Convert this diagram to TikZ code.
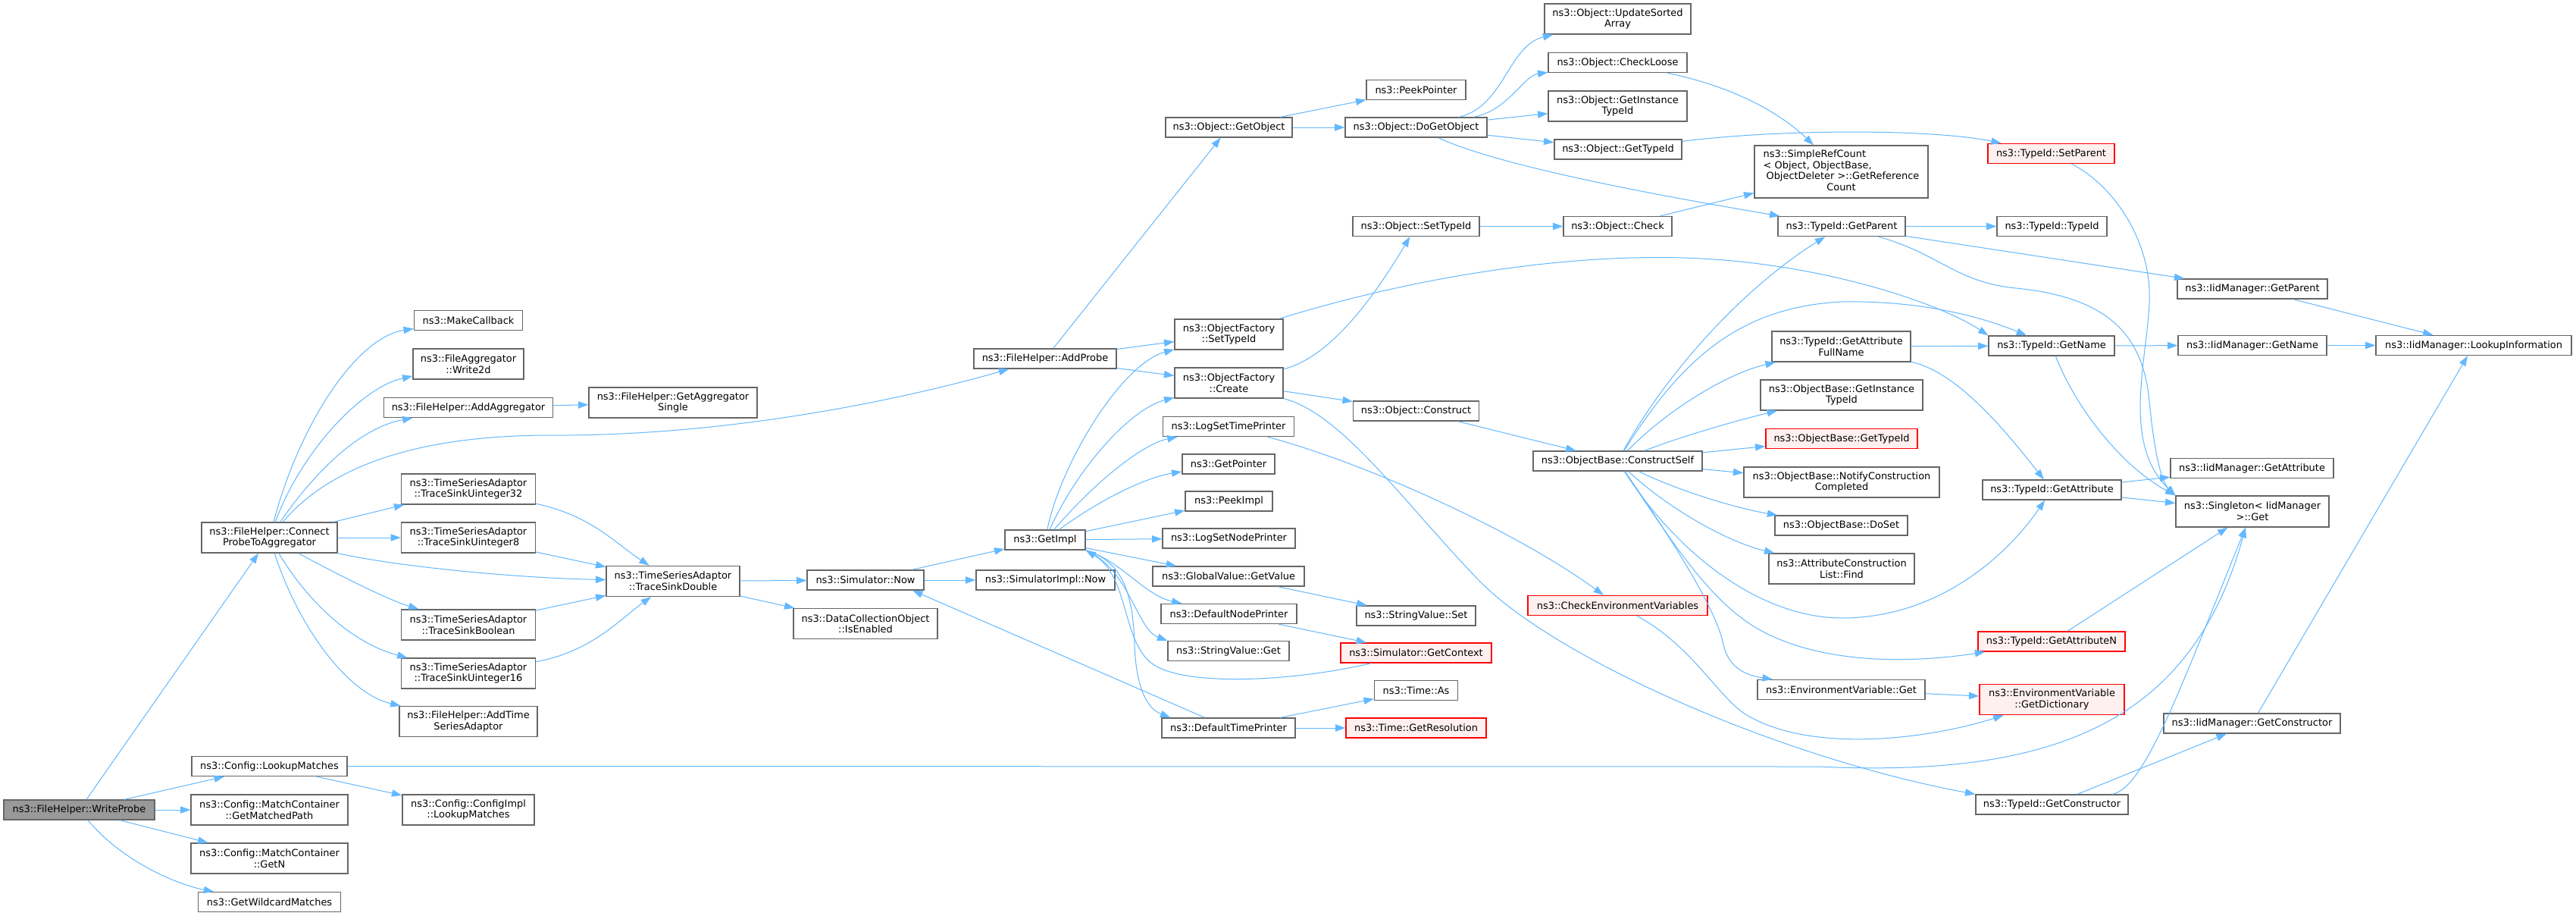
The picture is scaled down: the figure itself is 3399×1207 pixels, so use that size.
\documentclass[tikz,border=0pt]{standalone}
\usepackage{fontspec}
\setmainfont{DejaVu Sans}
\usetikzlibrary{arrows.meta,calc}
\definecolor{ecol}{HTML}{63B8FF}
\definecolor{bcol}{HTML}{666666}
\definecolor{rootfill}{HTML}{999999}
\definecolor{redfill}{HTML}{FFF0F0}
\newcommand\ndfont{\fontsize{9.7}{11}\selectfont}
\tikzset{
 box/.style={draw=bcol, fill=white, line width=1pt, inner sep=1pt, align=center, font=\ndfont, text=black},
 rednode/.style={draw=red, fill=redfill},
 rootnode/.style={fill=rootfill},
 conn/.style={draw=ecol, line width=0.75pt, -{Triangle[length=10pt,width=7pt]}},
}
\newcommand\mknode[7]{\node[box,#6,minimum width={#4*0.75pt},minimum height={#5*0.75pt}] (#1) at (#2,#3) {#7};}
\begin{document}
\begin{tikzpicture}[x=0.75pt,y=-0.75pt]
\fill[white] (0,0) rectangle (3399,1207);
\useasboundingbox (0,0) rectangle (3399,1207);
% nodes
\mknode{wp}{104.5}{1068}{199}{26}{rootnode}{ns3::FileHelper::WriteProbe}
\mknode{cp}{355.5}{709}{179}{40}{}{ns3::FileHelper::Connect\\ProbeToAggregator}
\mknode{lm}{355.5}{1010.5}{205}{26}{}{ns3::Config::LookupMatches}
\mknode{gmp}{355.5}{1068}{207}{40}{}{ns3::Config::MatchContainer\\::GetMatchedPath}
\mknode{gnn}{355.5}{1132}{207}{40}{}{ns3::Config::MatchContainer\\::GetN}
\mknode{gwm}{355.5}{1189.5}{188}{26}{}{ns3::GetWildcardMatches}
\mknode{cil}{618}{1068}{174}{40}{}{ns3::Config::ConfigImpl\\::LookupMatches}
\mknode{mc}{618}{422.5}{143}{26}{}{ns3::MakeCallback}
\mknode{w2d}{618}{480}{146}{40}{}{ns3::FileAggregator\\::Write2d}
\mknode{aag}{618}{537.5}{223}{26}{}{ns3::FileHelper::AddAggregator}
\mknode{gas}{888}{531}{222}{40}{}{ns3::FileHelper::GetAggregator\\Single}
\mknode{t32}{618}{645}{177}{40}{}{ns3::TimeSeriesAdaptor\\::TraceSinkUinteger32}
\mknode{t8}{618}{709}{177}{40}{}{ns3::TimeSeriesAdaptor\\::TraceSinkUinteger8}
\mknode{tsd}{888}{766.5}{176}{40}{}{ns3::TimeSeriesAdaptor\\::TraceSinkDouble}
\mknode{tbo}{618}{824}{177}{40}{}{ns3::TimeSeriesAdaptor\\::TraceSinkBoolean}
\mknode{t16}{618}{888}{177}{40}{}{ns3::TimeSeriesAdaptor\\::TraceSinkUinteger16}
\mknode{ats}{618}{951.5}{182}{40}{}{ns3::FileHelper::AddTime\\SeriesAdaptor}
\mknode{sn}{1142}{765}{154}{26}{}{ns3::Simulator::Now}
\mknode{dco}{1142}{822.5}{190}{40}{}{ns3::DataCollectionObject\\::IsEnabled}
\mknode{ap}{1379}{473}{188}{26}{}{ns3::FileHelper::AddProbe}
\mknode{gi}{1379}{712}{106}{26}{}{ns3::GetImpl}
\mknode{sin}{1379.5}{765}{183}{26}{}{ns3::SimulatorImpl::Now}
\mknode{go}{1621.5}{168}{167}{26}{}{ns3::Object::GetObject}
\mknode{ofs}{1621.5}{441}{143}{40}{}{ns3::ObjectFactory\\::SetTypeId}
\mknode{ofc}{1621.5}{505}{143}{40}{}{ns3::ObjectFactory\\::Create}
\mknode{lst}{1621}{562.5}{173}{26}{}{ns3::LogSetTimePrinter}
\mknode{gpt}{1621}{612}{122}{26}{}{ns3::GetPointer}
\mknode{pim}{1621.5}{661}{115}{26}{}{ns3::PeekImpl}
\mknode{lsn}{1621.5}{710}{175}{26}{}{ns3::LogSetNodePrinter}
\mknode{gvg}{1621}{760}{200}{26}{}{ns3::GlobalValue::GetValue}
\mknode{dnp}{1621.5}{809.5}{179}{26}{}{ns3::DefaultNodePrinter}
\mknode{svg}{1621}{858.5}{160}{26}{}{ns3::StringValue::Get}
\mknode{dtp}{1621}{960}{176}{26}{}{ns3::DefaultTimePrinter}
\mknode{pp}{1868.5}{118.5}{131}{26}{}{ns3::PeekPointer}
\mknode{dgo}{1868.5}{168}{187}{26}{}{ns3::Object::DoGetObject}
\mknode{ost}{1868.5}{298.5}{167}{26}{}{ns3::Object::SetTypeId}
\mknode{oc}{1868.5}{542}{166}{26}{}{ns3::Object::Construct}
\mknode{svs}{1868.5}{812}{157}{26}{}{ns3::StringValue::Set}
\mknode{sgc}{1868.5}{861}{199}{26}{rednode}{ns3::Simulator::GetContext}
\mknode{tas}{1868.5}{910.5}{110}{26}{}{ns3::Time::As}
\mknode{tgr}{1868.5}{960}{185}{26}{rednode}{ns3::Time::GetResolution}
\mknode{usa}{2134.5}{25}{193}{40}{}{ns3::Object::UpdateSorted\\Array}
\mknode{ocl}{2134.5}{82.5}{183}{26}{}{ns3::Object::CheckLoose}
\mknode{ogi}{2134.5}{140}{183}{40}{}{ns3::Object::GetInstance\\TypeId}
\mknode{ogt}{2135}{197}{168}{26}{}{ns3::Object::GetTypeId}
\mknode{och}{2134.5}{298.5}{143}{26}{}{ns3::Object::Check}
\mknode{ocs}{2134.5}{608}{223}{26}{}{ns3::ObjectBase::ConstructSelf}
\mknode{cev}{2134.5}{798.5}{237}{26}{rednode}{ns3::CheckEnvironmentVariables}
\mknode{src}{2429.5}{226.5}{229}{69}{}{\begin{tabular}{@{}l@{}}ns3::SimpleRefCount\\< Object, ObjectBase,\\\hspace{0.3em}ObjectDeleter >::GetReference\\\multicolumn{1}{@{}c@{}}{Count}\end{tabular}}
\mknode{tgp}{2430}{298.5}{168}{26}{}{ns3::TypeId::GetParent}
\mknode{afn}{2429.5}{457}{183}{40}{}{ns3::TypeId::GetAttribute\\FullName}
\mknode{bgi}{2430}{521}{214}{40}{}{ns3::ObjectBase::GetInstance\\TypeId}
\mknode{bgt}{2430}{578.5}{200}{26}{rednode}{ns3::ObjectBase::GetTypeId}
\mknode{ncc}{2430}{636}{258}{40}{}{ns3::ObjectBase::NotifyConstruction\\Completed}
\mknode{bds}{2429.5}{693}{175}{26}{}{ns3::ObjectBase::DoSet}
\mknode{acf}{2430}{750}{192}{40}{}{ns3::AttributeConstruction\\List::Find}
\mknode{evg}{2429.5}{909.5}{221}{26}{}{ns3::EnvironmentVariable::Get}
\mknode{tsp}{2706.5}{202.5}{167}{26}{rednode}{ns3::TypeId::SetParent}
\mknode{tti}{2707.5}{298.5}{145}{26}{}{ns3::TypeId::TypeId}
\mknode{tgn}{2707}{456}{166}{26}{}{ns3::TypeId::GetName}
\mknode{tga}{2707.5}{646}{183}{26}{}{ns3::TypeId::GetAttribute}
\mknode{gan}{2707}{846}{194}{26}{rednode}{ns3::TypeId::GetAttributeN}
\mknode{egd}{2707.5}{922.5}{191}{40}{rednode}{ns3::EnvironmentVariable\\::GetDictionary}
\mknode{tgc}{2707.5}{1061}{201}{26}{}{ns3::TypeId::GetConstructor}
\mknode{igp}{2972}{381}{198}{26}{}{ns3::IidManager::GetParent}
\mknode{ign}{2972}{455.5}{196}{26}{}{ns3::IidManager::GetName}
\mknode{iga}{2971.5}{617.5}{215}{26}{}{ns3::IidManager::GetAttribute}
\mknode{sg}{2972}{674.5}{202}{41}{}{ns3::Singleton< IidManager\\ >::Get}
\mknode{igc}{2971.5}{954}{233}{26}{}{ns3::IidManager::GetConstructor}
\mknode{ili}{3264}{455.5}{258}{26}{}{ns3::IidManager::LookupInformation}
% edges: WriteProbe
\draw[conn] (wp) -- (cp);
\draw[conn] (wp) -- (lm);
\draw[conn] (wp) -- (gmp);
\draw[conn] (wp) -- (gnn);
\draw[conn] (wp) .. controls (165,1140) and (240,1168) .. (gwm);
\draw[conn] (lm) -- (cil);
\draw[conn] (lm.east) -- (2400,1011) .. controls (2700,1025) and (2890,960) .. ($(sg.south)+(-9,0)$);
% ConnectProbeToAggregator
\draw[conn] (cp) .. controls (395,560) and (470,445) .. (mc);
\draw[conn] (cp) .. controls (400,590) and (480,510) .. (w2d);
\draw[conn] (cp) .. controls (410,630) and (470,565) .. (aag);
\draw[conn] (cp) .. controls (440,610) and (560,575) .. (720,574) .. controls (950,576) and (1180,530) .. (ap);
\draw[conn] (cp) -- (t32);
\draw[conn] (cp) -- (t8);
\draw[conn] (cp.south east) .. controls (530,748) and (680,762) .. (tsd);
\draw[conn] (cp) .. controls (450,760) and (510,790) .. (tbo);
\draw[conn] (cp) .. controls (410,800) and (470,850) .. (t16);
\draw[conn] (cp) .. controls (395,830) and (460,915) .. (ats);
\draw[conn] (aag) -- (gas);
\draw[conn] (t32) .. controls (780,680) and (810,715) .. (tsd);
\draw[conn] (t8) -- (tsd);
\draw[conn] (tbo) -- (tsd);
\draw[conn] (t16) .. controls (780,860) and (820,815) .. (tsd);
\draw[conn] (tsd) -- (sn);
\draw[conn] (tsd) -- (dco);
% AddProbe
\draw[conn] (ap) -- (go);
\draw[conn] (ap) -- (ofs);
\draw[conn] (ap) -- (ofc);
\draw[conn] (go) -- (pp);
\draw[conn] (go) -- (dgo);
% DoGetObject
\draw[conn] (dgo) .. controls (1985,140) and (1990,60) .. (usa);
\draw[conn] (dgo) .. controls (1990,146) and (2010,100) .. (ocl);
\draw[conn] (dgo) -- (ogi);
\draw[conn] (dgo) -- (ogt);
\draw[conn] (dgo) .. controls (1980,220) and (2200,260) .. (tgp);
\draw[conn] (ogt) .. controls (2350,170) and (2550,170) .. (tsp);
\draw[conn] (ocl) .. controls (2290,115) and (2350,150) .. (src);
\draw[conn] (och) -- (src);
\draw[conn] (ost) -- (och);
% ObjectFactory
\draw[conn] (ofs) .. controls (1850,370) and (2050,335) .. (2220,340) .. controls (2400,345) and (2560,400) .. (tgn.north west);
\draw[conn] (ofc) .. controls (1760,470) and (1820,380) .. (ost);
\draw[conn] (ofc) -- (oc);
\draw[conn] (ofc.south east) .. controls (1770,545) and (1850,660) .. (1950,764) .. controls (2050,868) and (2350,1000) .. (tgc.north west);
\draw[conn] (oc) -- (ocs);
% ConstructSelf
\draw[conn] (ocs) .. controls (2200,490) and (2300,380) .. (tgp);
\draw[conn] (ocs) .. controls (2215,480) and (2290,405) .. (2430,398) .. controls (2540,396) and (2620,420) .. (tgn);
\draw[conn] (ocs) .. controls (2190,550) and (2270,495) .. (afn);
\draw[conn] (ocs) .. controls (2220,575) and (2290,555) .. (bgi);
\draw[conn] (ocs) -- (bgt);
\draw[conn] (ocs) -- (ncc);
\draw[conn] (ocs) .. controls (2220,650) and (2300,672) .. (bds);
\draw[conn] (ocs) .. controls (2200,670) and (2280,715) .. (acf);
\draw[conn] (ocs) .. controls (2220,740) and (2330,815) .. (2430,815) .. controls (2560,815) and (2650,730) .. (tga);
\draw[conn] (ocs) .. controls (2210,720) and (2260,800) .. (2330,835) .. controls (2420,880) and (2540,872) .. (gan);
\draw[conn] (ocs) .. controls (2240,760) and (2268,820) .. (2274,850) .. controls (2280,878) and (2300,890) .. (evg);
% env
\draw[conn] (lst) .. controls (1800,610) and (2000,700) .. (cev);
\draw[conn] (cev) .. controls (2230,850) and (2265,915) .. (2300,940) .. controls (2385,995) and (2545,975) .. (egd);
\draw[conn] (evg) -- (egd);
% TypeId
\draw[conn] (tgp) -- (tti);
\draw[conn] (tgp) -- (igp);
\draw[conn] (tgp) .. controls (2560,335) and (2580,372) .. (2660,380) .. controls (2780,392) and (2828,440) .. (2836,530) .. controls (2843,600) and (2852,635) .. (sg.north west);
\draw[conn] (tsp) .. controls (2790,245) and (2840,320) .. (2836,400) .. controls (2832,480) and (2800,585) .. (sg.north west);
\draw[conn] (tgn) -- (ign);
\draw[conn] (tgn) .. controls (2740,540) and (2800,615) .. (sg.north west);
\draw[conn] (tga) -- (iga);
\draw[conn] (tga) -- (sg);
\draw[conn] (afn) -- (tgn);
\draw[conn] (afn) .. controls (2580,490) and (2640,560) .. (tga);
\draw[conn] (gan) -- (sg);
\draw[conn] (tgc) -- (igc);
\draw[conn] (tgc) .. controls (2830,1040) and (2880,900) .. ($(sg.south)+(-9,0)$);
\draw[conn] (igp) -- (ili);
\draw[conn] (ign) -- (ili);
\draw[conn] (igc) -- (ili);
% GetImpl
\draw[conn] (gi) .. controls (1400,610) and (1480,480) .. (ofs);
\draw[conn] (gi) .. controls (1420,620) and (1490,540) .. (ofc);
\draw[conn] (gi) .. controls (1450,630) and (1510,585) .. (lst);
\draw[conn] (gi) .. controls (1450,660) and (1510,630) .. (gpt);
\draw[conn] (gi) -- (pim);
\draw[conn] (gi) -- (lsn);
\draw[conn] (gi) -- (gvg);
\draw[conn] (gi.south east) .. controls (1480,740) and (1510,785) .. (dnp);
\draw[conn] (gi.south east) .. controls (1490,750) and (1500,830) .. (svg.north west);
\draw[conn] (gi.south east) .. controls (1480,740) and (1495,780) .. (1497,850) .. controls (1499,910) and (1515,935) .. ($(dtp.north west)+(12,0)$);
\draw[conn] (sgc) .. controls (1700,900) and (1560,905) .. (1520,875) .. controls (1480,845) and (1490,760) .. (gi.south east);
\draw[conn] (sn) -- (gi);
\draw[conn] (sn) -- (sin);
\draw[conn] (dtp) -- ($(sn.south)!0.8!(sn.south east)$);
\draw[conn] (dtp) -- (tas);
\draw[conn] (dtp) -- (tgr);
\draw[conn] (gvg) -- (svs);
\draw[conn] (dnp) -- (sgc);
\end{tikzpicture}
\end{document}
